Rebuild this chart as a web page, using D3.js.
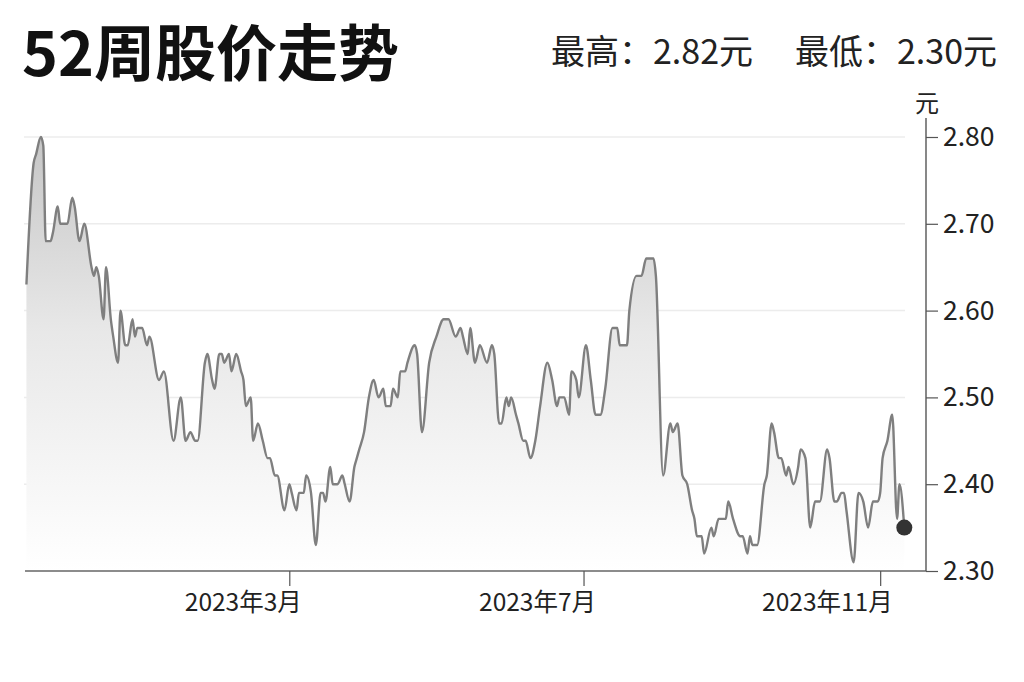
<!DOCTYPE html>
<html>
<head>
<meta charset="utf-8">
<script src="https://cdn.jsdelivr.net/npm/d3@7"></script>
<style>
  html, body { margin: 0; padding: 0; background: #fff; }
  svg { display: block; }
  text { font-family: "Noto Sans CJK SC", "Noto Sans", sans-serif; }
</style>
</head>
<body>
<svg id="chart" width="1024" height="682"></svg>
<script>
// ---------- data ----------
const titleText = "52周股价走势";
const highLabel = "最高：2.82元";
const lowLabel = "最低：2.30元";
const unitLabel = "元";
const startDate = "2022-11-11";
const endDate = "2023-11-20";
// days since startDate
const dayOffsets = [1,4,5,7,8,9,11,12,14,15,
 18,20,21,23,25,28,29,30,31,33,
 34,36,37,39,40,42,43,45,46,47,
 49,51,52,56,58,62,65,67,69,71,
 72,75,76,78,79,81,82,83,85,86,
 88,90,91,92,94,95,97,99,101,102,
 104,105,108,110,111,113,114,116,117,119,
 121,123,124,125,127,128,130,132,133,135,
 137,138,139,141,143,145,147,149,150,152,
 153,155,156,158,159,162,163,165,168,171,
 174,176,179,181,182,184,185,187,189,192,
 194,195,197,198,200,201,202,204,205,207,
 208,210,212,214,217,219,221,222,224,226,
 227,229,230,233,235,237,239,241,244,246,
 247,250,251,254,256,258,261,262,265,268,
 269,271,273,275,277,278,279,281,282,285,
 286,288,291,292,294,297,298,300,301,302,
 304,307,308,310,311,313,314,316,317,319,
 321,322,324,326,328,330,333,334,336,337,
 339,340,341,344,346,348,350,352,354,355,
 356,358,360,362,363,365];
const prices = [2.63,2.77,2.78,2.80,2.79,2.68,2.68,2.69,2.72,2.70,
 2.70,2.73,2.72,2.68,2.70,2.65,2.64,2.65,2.64,2.59,
 2.65,2.59,2.57,2.54,2.60,2.56,2.56,2.59,2.57,2.58,
 2.58,2.56,2.57,2.52,2.53,2.45,2.50,2.45,2.46,2.45,
 2.45,2.54,2.55,2.52,2.51,2.55,2.55,2.54,2.55,2.53,
 2.55,2.53,2.52,2.49,2.50,2.45,2.47,2.45,2.43,2.43,
 2.41,2.41,2.37,2.40,2.39,2.37,2.39,2.39,2.41,2.39,
 2.33,2.39,2.39,2.38,2.42,2.40,2.40,2.41,2.40,2.38,
 2.42,2.43,2.44,2.46,2.50,2.52,2.50,2.51,2.49,2.49,
 2.51,2.50,2.53,2.53,2.54,2.56,2.55,2.46,2.54,2.57,
 2.59,2.59,2.57,2.58,2.57,2.55,2.58,2.54,2.56,2.54,
 2.56,2.55,2.47,2.47,2.50,2.49,2.50,2.48,2.47,2.45,
 2.45,2.43,2.45,2.49,2.54,2.52,2.49,2.50,2.50,2.48,
 2.53,2.52,2.50,2.56,2.52,2.48,2.48,2.51,2.58,2.58,
 2.56,2.56,2.60,2.64,2.64,2.66,2.66,2.64,2.41,2.47,
 2.46,2.47,2.41,2.40,2.37,2.36,2.34,2.34,2.32,2.35,
 2.34,2.36,2.36,2.38,2.36,2.34,2.34,2.32,2.34,2.33,
 2.33,2.40,2.41,2.47,2.46,2.43,2.43,2.41,2.42,2.40,
 2.42,2.44,2.43,2.35,2.38,2.38,2.44,2.43,2.38,2.38,
 2.39,2.39,2.37,2.31,2.39,2.38,2.35,2.38,2.38,2.39,
 2.43,2.45,2.48,2.36,2.40,2.35];
const yTicks = [2.30, 2.40, 2.50, 2.60, 2.70, 2.80];
const yDomain = [2.30, 2.80];
const xTickDates = ["2023-03-01", "2023-07-01", "2023-11-01"];
const xTickLabels = ["2023年3月", "2023年7月", "2023年11月"];

// ---------- build ----------
(function () {
const parse = d3.timeParse("%Y-%m-%d");
const start = parse(startDate);
const series = dayOffsets.map((d, i) => ({ date: d3.timeDay.offset(start, d), value: prices[i] }));

const svg = d3.select("#chart");
const plotLeft = 24, plotRight = 926, plotTop = 137, plotBottom = 571;

const x = d3.scaleTime().domain([start, parse(endDate)]).range([plotLeft, plotRight]);
const y = d3.scaleLinear().domain(yDomain).range([plotBottom, plotTop]);

// title & header
svg.append("text").attr("x", 22).attr("y", 76)
  .attr("font-size", 61).attr("font-weight", 700).attr("fill", "#111")
  .text(titleText);
svg.append("text").attr("x", 551).attr("y", 64)
  .attr("font-size", 34).attr("fill", "#222").text(highLabel);
svg.append("text").attr("x", 997).attr("y", 64).attr("text-anchor", "end")
  .attr("font-size", 34).attr("fill", "#222").text(lowLabel);

// gradient
const defs = svg.append("defs");
const grad = defs.append("linearGradient").attr("id", "areaGrad")
  .attr("gradientUnits", "userSpaceOnUse")
  .attr("x1", 0).attr("x2", 0).attr("y1", y(2.80)).attr("y2", y(2.30));
grad.append("stop").attr("offset", "0%").attr("stop-color", "#c6c6c6");
grad.append("stop").attr("offset", "45%").attr("stop-color", "#e8e8e8");
grad.append("stop").attr("offset", "100%").attr("stop-color", "#ffffff");

// gridlines
svg.append("g").selectAll("line")
  .data(yTicks.filter(t => t > yDomain[0]))
  .join("line")
  .attr("x1", plotLeft).attr("x2", 905)
  .attr("y1", d => y(d)).attr("y2", d => y(d))
  .attr("stroke", "#ececec").attr("stroke-width", 1.5);

// area + line
const curve = d3.curveMonotoneX;
svg.append("path").datum(series)
  .attr("fill", "url(#areaGrad)")
  .attr("d", d3.area().x(d => x(d.date)).y0(plotBottom).y1(d => y(d.value)).curve(curve));
svg.append("path").datum(series)
  .attr("fill", "none").attr("stroke", "#7f7f7f").attr("stroke-width", 2.4)
  .attr("stroke-linejoin", "round")
  .attr("d", d3.line().x(d => x(d.date)).y(d => y(d.value)).curve(curve));

// last point dot
const last = series[series.length - 1];
svg.append("circle").attr("cx", x(last.date)).attr("cy", y(last.value))
  .attr("r", 8).attr("fill", "#333");

// x axis
const xAxis = d3.axisBottom(x)
  .tickValues(xTickDates.map(parse))
  .tickFormat((d, i) => xTickLabels[i])
  .tickSize(15).tickSizeOuter(0);
const gx = svg.append("g").attr("transform", `translate(0,${plotBottom})`).call(xAxis);
gx.select(".domain").attr("stroke", "#666").attr("stroke-width", 1.6)
  .attr("d", `M${plotLeft + 1},0H${plotRight}`);
gx.selectAll(".tick line").attr("stroke", "#555").attr("stroke-width", 1.2);
gx.selectAll(".tick text")
  .attr("font-family", "Noto Sans CJK SC")
  .attr("font-size", 24.5).attr("fill", "#222")
  .attr("text-anchor", "end").attr("x", 12).attr("y", 23).attr("dy", "0.71em");

// y axis (right)
const yAxis = d3.axisRight(y).tickValues(yTicks)
  .tickFormat(d3.format(".2f")).tickSize(12).tickPadding(5).tickSizeOuter(0);
const gy = svg.append("g").attr("transform", `translate(${plotRight},0)`).call(yAxis);
gy.select(".domain").attr("stroke", "#555").attr("stroke-width", 1.4)
  .attr("d", `M0,118V${plotBottom}`);
gy.selectAll(".tick line").attr("stroke", "#555").attr("stroke-width", 1.2);
gy.selectAll(".tick text")
  .attr("font-family", "Noto Sans CJK SC")
  .attr("font-size", 26.5).attr("fill", "#222");

svg.append("text").attr("x", 927).attr("y", 112).attr("text-anchor", "middle")
  .attr("font-size", 24).attr("fill", "#222").text(unitLabel);
})();
</script>
</body>
</html>
